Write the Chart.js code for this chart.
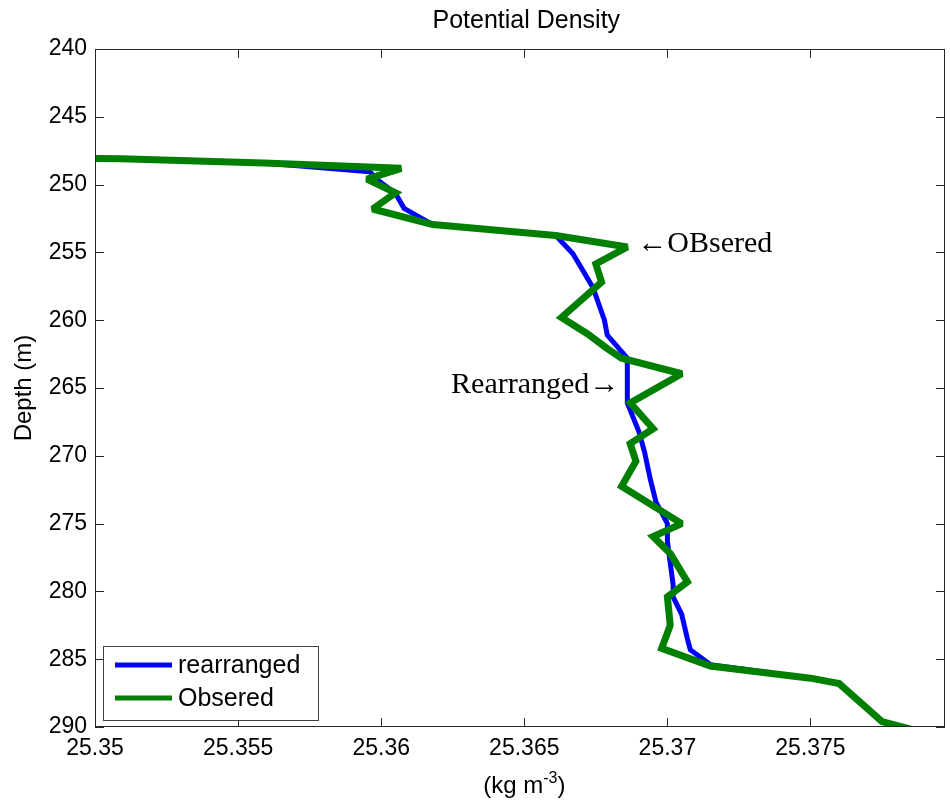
<!DOCTYPE html>
<html>
<head>
<meta charset="utf-8">
<title>Potential Density</title>
<script src="https://cdn.jsdelivr.net/npm/chart.js@4.4.1/dist/chart.umd.min.js"></script>
<style>
  html, body { margin: 0; padding: 0; background: #fff; }
</style>
</head>
<body>
<canvas id="c" width="950" height="807"></canvas>
<script>
// Potential density profile: observed vs rearranged (sorted) density, depth downward.

const X_TICKS = [25.35, 25.355, 25.36, 25.365, 25.37, 25.375]
const X_TICK_LABELS = ['25.35', '25.355', '25.36', '25.365', '25.37', '25.375']
const Y_TICKS = [240, 245, 250, 255, 260, 265, 270, 275, 280, 285, 290]
const X_MIN = 25.35
const X_MAX = 25.3797
const Y_MIN = 240
const Y_MAX = 290

const SERIES_LABELS = ['rearranged', 'Obsered']

// rearranged profile (kg m-3 vs depth m)
const REARR_DENSITY = [25.3495, 25.3509, 25.3559, 25.3596, 25.3599, 25.3605, 25.3608, 25.3618, 25.3661, 25.3667,
  25.3674, 25.3678, 25.3679, 25.3686, 25.3686, 25.3690, 25.3692, 25.3694, 25.3696, 25.3700,
  25.3700, 25.3702, 25.3702, 25.3705, 25.3707, 25.3708, 25.3715, 25.3750, 25.3760, 25.3775, 25.3785]
const REARR_DEPTH = [248.05, 248.1, 248.4, 249.05, 249.7, 250.65, 251.75, 252.95, 253.75, 255.1,
  257.6, 260.0, 261.1, 262.8, 266.1, 268.2, 269.7, 271.7, 273.4, 275.0,
  276.3, 279.5, 280.4, 281.7, 283.5, 284.3, 285.4, 286.4, 286.8, 289.6, 290.15]

// observed profile
const OBS_DENSITY = [25.3495, 25.3509, 25.3559, 25.3607, 25.3595, 25.3605, 25.3597, 25.3618, 25.3661, 25.3686,
  25.3675, 25.3677, 25.3663, 25.3672, 25.3679, 25.3684, 25.3705, 25.3687, 25.3695, 25.3687,
  25.3689, 25.3684, 25.3705, 25.3695, 25.3701, 25.3707, 25.3700, 25.3701, 25.3698, 25.3715,
  25.3750, 25.3760, 25.3775, 25.3785]
const OBS_DEPTH = [248.05, 248.1, 248.4, 248.8, 249.6, 250.6, 251.8, 252.95, 253.75, 254.6,
  255.85, 257.2, 259.8, 261.0, 262.1, 262.8, 263.95, 266.1, 268.0, 269.1,
  270.4, 272.25, 275.0, 275.95, 277.2, 279.3, 280.4, 282.5, 284.2, 285.5,
  286.4, 286.8, 289.6, 290.15]

// annotation anchors (data coords): observed spike and rearranged step
const OBS_NOTE = { text: '\u2190OBsered', x: 25.3686, y: 254.6 }
const REARR_NOTE = { text: 'Rearranged\u2192', x: 25.3686, y: 264.9 }

const SANS = "'Liberation Sans', Arial, sans-serif"
const SERIF = "'Liberation Serif', 'Times New Roman', serif"
const TICK = 9

const toPoints = (xs, ys) => xs.map((v, i) => ({ x: v, y: ys[i] }))

// box, inward ticks, legend, titles, notes — MATLAB look
const overlay = {
  id: 'overlay',
  beforeDatasetsDraw(chart) {
    // sharp spikes get bevelled instead of long miter tips
    chart.ctx.miterLimit = 2
  },
  afterDatasetsDraw(chart) {
    chart.ctx.miterLimit = 10
  },
  afterDraw(chart) {
    const { ctx, chartArea: a, scales: { x, y } } = chart
    ctx.save()
    ctx.strokeStyle = '#262626'
    ctx.lineWidth = 1
    ctx.strokeRect(a.left + 0.5, a.top + 0.5, a.right - a.left - 1, a.bottom - a.top - 1)
    ctx.beginPath()
    X_TICKS.forEach(v => {
      const px = Math.round(x.getPixelForValue(v)) + 0.5
      ctx.moveTo(px, a.bottom); ctx.lineTo(px, a.bottom - TICK)
      ctx.moveTo(px, a.top); ctx.lineTo(px, a.top + TICK)
    })
    Y_TICKS.forEach(v => {
      const py = Math.round(y.getPixelForValue(v)) + 0.5
      ctx.moveTo(a.left, py); ctx.lineTo(a.left + TICK, py)
      ctx.moveTo(a.right, py); ctx.lineTo(a.right - TICK, py)
    })
    ctx.stroke()

    // legend box, lower left inside the axes
    const lw = 215, lh = 74
    const lx = a.left + 8, ly = a.bottom - 7 - lh
    ctx.fillStyle = '#fff'
    ctx.fillRect(lx, ly, lw, lh)
    ctx.strokeStyle = '#404040'
    ctx.strokeRect(lx + 0.5, ly + 0.5, lw, lh)
    ctx.font = `25px ${SANS}`
    ctx.textAlign = 'left'
    ctx.textBaseline = 'middle'
    chart.data.datasets.forEach((ds, i) => {
      const ry = ly + 19 + i * 33
      ctx.strokeStyle = ds.borderColor
      ctx.lineWidth = 5
      ctx.beginPath(); ctx.moveTo(lx + 12, ry); ctx.lineTo(lx + 69, ry); ctx.stroke()
      ctx.fillStyle = '#000'
      ctx.fillText(ds.label, lx + 75, ry + 1)
    })

    // title + axis labels
    const cx = x.getPixelForValue(X_TICKS[3])
    ctx.fillStyle = '#000'
    ctx.textAlign = 'center'
    ctx.font = `25px ${SANS}`
    ctx.fillText('Potential Density', cx + 2, 21)

    // (kg m^-3) with superscript
    const base = 793
    const p1 = '(kg m', sup = '-3', p2 = ')'
    ctx.font = `24px ${SANS}`
    const w1 = ctx.measureText(p1).width, w3 = ctx.measureText(p2).width
    ctx.font = `16px ${SANS}`
    const w2 = ctx.measureText(sup).width
    let sx = cx - (w1 + w2 + w3) / 2
    ctx.textAlign = 'left'
    ctx.textBaseline = 'alphabetic'
    ctx.font = `24px ${SANS}`
    ctx.fillText(p1, sx, base); sx += w1
    ctx.font = `16px ${SANS}`
    ctx.fillText(sup, sx, base - 10); sx += w2
    ctx.font = `24px ${SANS}`
    ctx.fillText(p2, sx, base)

    ctx.save()
    ctx.translate(24, (a.top + a.bottom) / 2)
    ctx.rotate(-Math.PI / 2)
    ctx.textAlign = 'center'
    ctx.textBaseline = 'middle'
    ctx.fillText('Depth (m)', 0, 0)
    ctx.restore()

    // arrow notes
    ctx.font = `30px ${SERIF}`
    ctx.textBaseline = 'middle'
    ctx.textAlign = 'left'
    ctx.fillText(OBS_NOTE.text, x.getPixelForValue(OBS_NOTE.x) + 10, y.getPixelForValue(OBS_NOTE.y) - 3)
    ctx.textAlign = 'right'
    ctx.fillText(REARR_NOTE.text, x.getPixelForValue(REARR_NOTE.x) - 8, y.getPixelForValue(REARR_NOTE.y) - 2)
    ctx.restore()
  }
}

new Chart(document.getElementById('c'), {
  type: 'line',
  data: {
    datasets: [{
      label: SERIES_LABELS[0],
      data: toPoints(REARR_DENSITY, REARR_DEPTH),
      borderColor: '#0000ff',
      borderWidth: 5,
      order: 2,
      clip: 0,
    }, {
      label: SERIES_LABELS[1],
      data: toPoints(OBS_DENSITY, OBS_DEPTH),
      borderColor: '#007f00',
      borderWidth: 7,
      order: 1, // observed drawn on top
      clip: 0,
    }]
  },
  options: {
    responsive: false,
    animation: false,
    events: [],
    layout: { padding: { top: 49, right: 5, left: 0, bottom: 0 } },
    elements: { point: { radius: 0 }, line: { tension: 0, fill: false } },
    plugins: { legend: { display: false }, tooltip: { enabled: false }, title: { display: false } },
    scales: {
      x: {
        type: 'linear',
        min: X_MIN,
        max: X_MAX,
        afterBuildTicks: s => { s.ticks = X_TICKS.map(v => ({ value: v })) },
        afterFit: s => { s.height = 80 },
        grid: { display: false, drawTicks: false },
        border: { display: false },
        ticks: {
          autoSkip: false, maxRotation: 0, padding: 8, color: '#000',
          font: { family: SANS, size: 23 },
          callback: (v, i) => X_TICK_LABELS[i]
        }
      },
      y: {
        type: 'linear',
        reverse: true,
        min: Y_MIN,
        max: Y_MAX,
        afterBuildTicks: s => { s.ticks = Y_TICKS.map(v => ({ value: v })) },
        afterFit: s => { s.width = 95 },
        grid: { display: false, drawTicks: false },
        border: { display: false },
        ticks: {
          autoSkip: false, padding: 8, color: '#000',
          font: { family: SANS, size: 23 },
          callback: v => String(v)
        }
      }
    }
  },
  plugins: [overlay]
})
</script>
</body>
</html>
